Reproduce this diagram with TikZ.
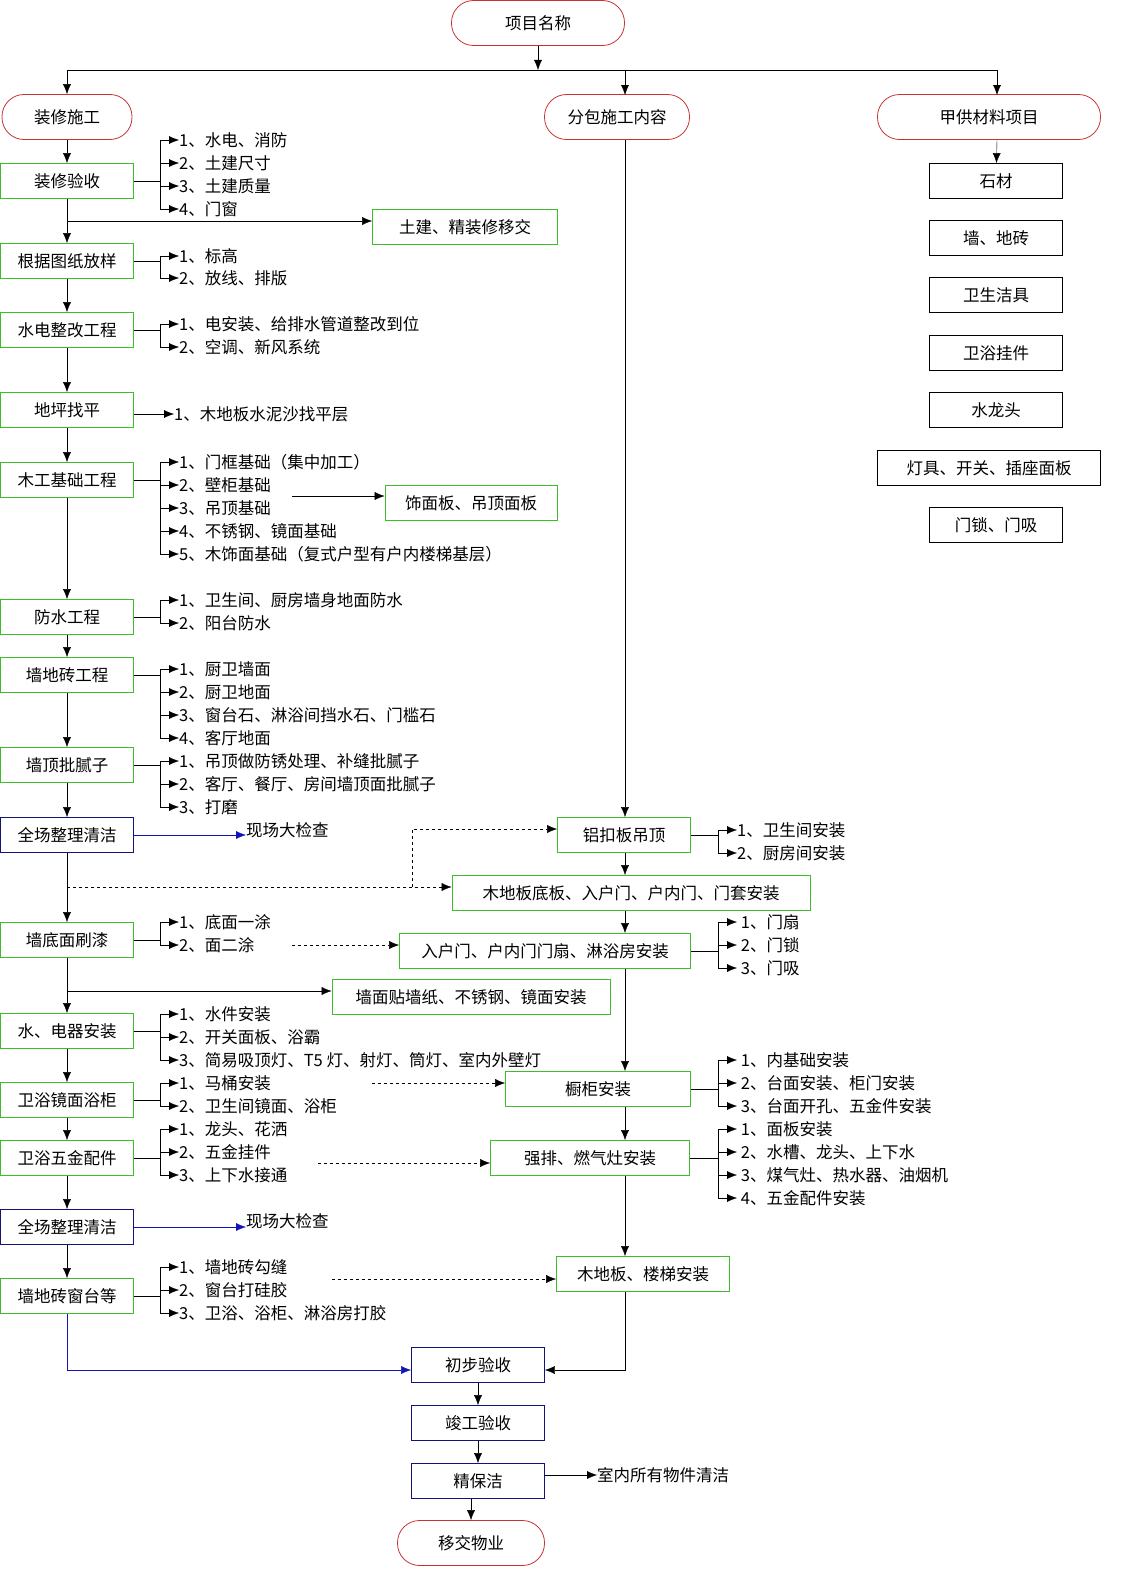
\documentclass[tikz,border=0pt]{standalone}
\usepackage{fontspec}
\setmainfont{Noto Sans CJK SC}
\usetikzlibrary{positioning, calc, arrows.meta}

\definecolor{boxgreen}{RGB}{60,190,40}
\definecolor{boxblue}{RGB}{20,20,120}
\definecolor{boxred}{RGB}{200,50,50}
\definecolor{lineblue}{RGB}{20,20,180}

% list of items hanging off a bus line
\newcommand\sublist[3]{%
  \coordinate (bus) at (#2,0);
  \draw (#1.east) -- (#1.east -| bus);
  \foreach \y/\t in {#3} {
    \node[item, anchor=west] (lbl) at (#2+19,\y) {\t};
    \draw[->] (#1.east -| bus) -- (bus |- lbl) -- (lbl.west);
  }}

\begin{document}
\begin{tikzpicture}[
    x=1pt, y=-1pt, >={Latex[length=10pt,width=8pt]},
    font=\fontsize{16.5}{18}\selectfont,
    term/.style={draw=boxred, thick, rounded corners=22pt, minimum height=45pt},
    stepbox/.style={draw=boxgreen, thick, minimum width=133pt, minimum height=35pt},
    navy/.style={draw=boxblue, thick, minimum height=35pt},
    mat/.style={draw=black, thick, minimum width=133pt, minimum height=35pt},
    item/.style={inner sep=0pt}
  ]
  \useasboundingbox (0,0) rectangle (1123,1595);

  \node[term, minimum width=173pt] (top) at (538,23) {项目名称};
  \node[term, minimum width=130pt] (deco) at (67,117) {装修施工};
  \node[term, minimum width=145pt] (sub) at (617,117) {分包施工内容};
  \node[term, minimum width=223pt] (sup) at (989,117) {甲供材料项目};

  \coordinate (bar) at (0,70);
  \draw[->] (top) -- (top.south |- bar);
  \draw[->] (bar -| deco) -- (deco);
  \draw[->] (625,70) -- (625,95);
  \draw (bar -| deco) -- (997,70);
  \draw[->] (997,70) -- (997,95);

  % supplied materials
  \node[mat] (m0) at (996,181) {石材};
  \node[mat] (m1) at (996,238) {墙、地砖};
  \node[mat] (m2) at (996,295) {卫生洁具};
  \node[mat] (m3) at (996,353) {卫浴挂件};
  \node[mat] (m4) at (996,410) {水龙头};
  \node[mat, minimum width=223pt] (m5) at (989,468) {灯具、开关、插座面板};
  \node[mat] (m6) at (996,525) {门锁、门吸};
  \draw[->] (997,140) -- (m0);

  % main column
  \node[stepbox] (s0) at (67,181) {装修验收};
  \node[stepbox] (s1) at (67,261) {根据图纸放样};
  \node[stepbox] (s2) at (67,330) {水电整改工程};
  \node[stepbox] (s3) at (67,410) {地坪找平};
  \node[stepbox] (s4) at (67,480) {木工基础工程};
  \node[stepbox] (s5) at (67,617) {防水工程};
  \node[stepbox] (s6) at (67,675) {墙地砖工程};
  \node[stepbox] (s7) at (67,765) {墙顶批腻子};
  \node[navy, minimum width=133pt] (s8) at (67,835) {全场整理清洁};
  \node[stepbox] (s9) at (67,940) {墙底面刷漆};
  \node[stepbox] (s10) at (67,1031) {水、电器安装};
  \node[stepbox] (s11) at (67,1100) {卫浴镜面浴柜};
  \node[stepbox] (s12) at (67,1158) {卫浴五金配件};
  \node[navy, minimum width=133pt] (s13) at (67,1227) {全场整理清洁};
  \node[stepbox] (s14) at (67,1296) {墙地砖窗台等};
  \foreach \a/\b in {deco/s0, s0/s1, s1/s2, s2/s3, s3/s4, s4/s5, s5/s6, s6/s7,
                     s7/s8, s8/s9, s9/s10, s10/s11, s11/s12, s12/s13, s13/s14}
    \draw[->] (\a) -- (\b);

  \sublist{s0}{160}{140/1、水电、消防, 163/2、土建尺寸, 186/3、土建质量, 209/4、门窗}
  \sublist{s1}{160}{256/1、标高, 278/2、放线、排版}
  \sublist{s2}{160}{324/1、电安装、给排水管道整改到位, 347/2、空调、新风系统}
  \node[item, anchor=west] (lvl) at (174,414) {1、木地板水泥沙找平层};
  \draw[->] (s3.east |- lvl) -- (lvl.west);
  \sublist{s4}{160}{462/1、门框基础（集中加工）, 485/2、壁柜基础, 508/3、吊顶基础,
    531/4、不锈钢、镜面基础, 554/5、木饰面基础（复式户型有户内楼梯基层）}
  \sublist{s5}{160}{600/1、卫生间、厨房墙身地面防水, 623/2、阳台防水}
  \sublist{s6}{160}{669/1、厨卫墙面, 692/2、厨卫地面, 715/3、窗台石、淋浴间挡水石、门槛石, 738/4、客厅地面}
  \sublist{s7}{160}{761/1、吊顶做防锈处理、补缝批腻子, 784/2、客厅、餐厅、房间墙顶面批腻子, 807/3、打磨}
  \sublist{s9}{160}{922/1、底面一涂, 945/2、面二涂}
  \sublist{s10}{160}{1014/1、水件安装, 1037/2、开关面板、浴霸, 1060/3、简易吸顶灯、T5 灯、射灯、筒灯、室内外壁灯}
  \sublist{s11}{160}{1083/1、马桶安装, 1106/2、卫生间镜面、浴柜}
  \sublist{s12}{160}{1129/1、龙头、花洒, 1152/2、五金挂件, 1175/3、上下水接通}
  \sublist{s14}{160}{1267/1、墙地砖勾缝, 1290/2、窗台打硅胶, 1313/3、卫浴、浴柜、淋浴房打胶}

  \node[stepbox, minimum width=185pt] (hand) at (465,227) {土建、精装修移交};
  \draw[->] (67,221) -- (hand.west |- 0,221);
  \node[stepbox, minimum width=172pt] (panel) at (471,503) {饰面板、吊顶面板};
  \draw[->] (292,496) -- (panel.west |- 0,496);
  \node[item, anchor=west] (chk0) at (246,830) {现场大检查};
  \draw[->, lineblue] (s8.east) -- (chk0.west |- s8.east);
  \node[item, anchor=west] (chk1) at (246,1221) {现场大检查};
  \draw[->, lineblue] (s13.east) -- (chk1.west |- s13.east);
  \node[stepbox, minimum width=278pt] (paper) at (471,997) {墙面贴墙纸、不锈钢、镜面安装};
  \draw[->] (67,991) -- (paper.west |- 0,991);

  % subcontract column
  \node[stepbox] (c0) at (624,835) {铝扣板吊顶};
  \node[stepbox, minimum width=358pt] (c1) at (631,893) {木地板底板、入户门、户内门、门套安装};
  \node[stepbox, minimum width=291pt] (c2) at (545,951) {入户门、户内门门扇、淋浴房安装};
  \node[stepbox, minimum width=185pt] (c3) at (598,1089) {橱柜安装};
  \node[stepbox, minimum width=199pt] (c4) at (590,1158) {强排、燃气灶安装};
  \node[stepbox, minimum width=173pt] (c5) at (643,1274) {木地板、楼梯安装};
  \coordinate (vl) at (625,0);
  \draw[->] (sub.south -| vl) -- (c0.north -| vl);
  \draw[->] (c0.south -| vl) -- (c1.north -| vl);
  \draw[->] (c1.south -| vl) -- (c2.north -| vl);
  \draw[->] (c2.south -| vl) -- (c3.north -| vl);
  \draw[->] (c3.south -| vl) -- (c4.north -| vl);
  \draw[->] (c4.south -| vl) -- (c5.north -| vl);

  \sublist{c0}{718}{830/1、卫生间安装, 853/2、厨房间安装}
  \sublist{c2}{718}{922/\ 1、门扇, 945/\ 2、门锁, 968/\ 3、门吸}
  \sublist{c3}{718}{1060/\ 1、内基础安装, 1083/\ 2、台面安装、柜门安装, 1106/\ 3、台面开孔、五金件安装}
  \sublist{c4}{718}{1129/\ 1、面板安装, 1152/\ 2、水槽、龙头、上下水, 1175/\ 3、煤气灶、热水器、油烟机, 1198/\ 4、五金配件安装}

  % dashed links
  \draw[->, dashed] (67,887) -- (c1.west |- 0,887);
  \draw[->, dashed] (412,887) -- (412,829) -- (c0.west |- 0,829);
  \draw[->, dashed] (292,945) -- (c2.west |- 0,945);
  \draw[->, dashed] (372,1083) -- (c3.west |- 0,1083);
  \draw[->, dashed] (318,1163) -- (c4.west |- 0,1163);
  \draw[->, dashed] (332,1279) -- (c5.west |- 0,1279);

  % completion
  \node[navy, minimum width=133pt] (f0) at (478,1365) {初步验收};
  \node[navy, minimum width=133pt] (f1) at (478,1423) {竣工验收};
  \node[navy, minimum width=133pt] (f2) at (478,1481) {精保洁};
  \node[term, minimum width=147pt] (f3) at (471,1543) {移交物业};
  \draw[->] (f0) -- (f1);
  \draw[->] (f1) -- (f2);
  \draw[->] (f2.south -| f3) -- (f3);
  \draw[->, lineblue] (s14) -- (67,1370) -- (f0.west |- 0,1370);
  \draw[->] (c5.south -| vl) -- (625,1370) -- (f0.east |- 0,1370);
  \node[item, anchor=west] (clean) at (597,1475) {室内所有物件清洁};
  \draw[->] (f2.east |- clean) -- (clean.west);
\end{tikzpicture}
\end{document}
